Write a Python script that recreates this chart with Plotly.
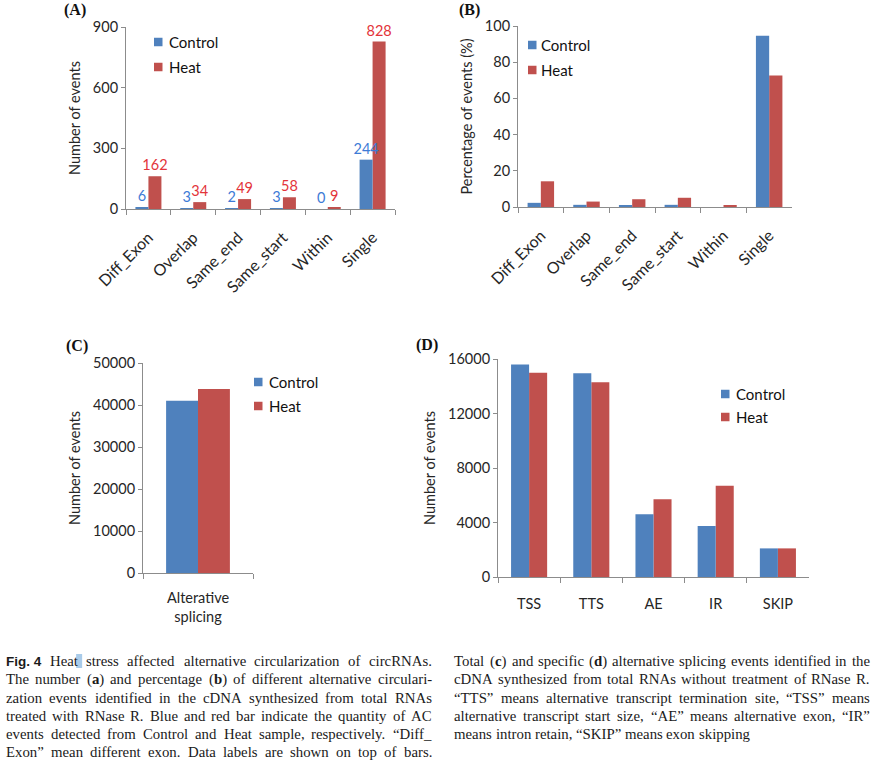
import plotly.graph_objects as go

W, H = 876, 760

# ---------------- data ----------------
cats_ab = ["Diff_Exon", "Overlap", "Same_end", "Same_start", "Within", "Single"]
ctrl_a = [6, 3, 2, 3, 0, 244]
heat_a = [162, 34, 49, 58, 9, 828]
ctrl_b = [2.3, 1.2, 0.8, 1.2, 0.0, 94.6]
heat_b = [14.2, 3.0, 4.3, 5.1, 0.8, 72.6]
cats_c = ["Alterative<br>splicing"]
ctrl_c = [41000]
heat_c = [43800]
cats_d = ["TSS", "TTS", "AE", "IR", "SKIP"]
ctrl_d = [15600, 14950, 4600, 3750, 2100]
heat_d = [15000, 14300, 5700, 6700, 2100]
series_names = ["Control", "Heat"]

caption_left = [
    "Fig. 4|Heat stress affected alternative circularization of circRNAs.",
    "The number (<b>a</b>) and percentage (<b>b</b>) of different alternative circulari-",
    "zation events identified in the cDNA synthesized from total RNAs",
    "treated with RNase R. Blue and red bar indicate the quantity of AC",
    "events detected from Control and Heat sample, respectively. \u201cDiff_",
    "Exon\u201d mean different exon. Data labels are shown on top of bars.",
]
caption_right = [
    "Total (<b>c</b>) and specific (<b>d</b>) alternative splicing events identified in the",
    "cDNA synthesized from total RNAs without treatment of RNase R.",
    "\u201cTTS\u201d means alternative transcript termination site, \u201cTSS\u201d means",
    "alternative transcript start size, \u201cAE\u201d means alternative exon, \u201cIR\u201d",
    "means intron retain, \u201cSKIP\u201d means exon skipping",
]

# ---------------- style ----------------
BLUE = "#4F81BD"
RED = "#C0504D"
BLUE_LBL = "#3D7BD6"
RED_LBL = "#E3343A"
FONT = "Lato"
TXT = "#262626"
AXC = "#8c8c8c"
FS = 14.5
BARW = 0.29  # width of each bar in category units


def px(x):
    return x / W


def py(y):
    return 1 - y / H


fig = go.Figure()

panels = [
    # suffix, cats, ctrl, heat, xdom(px), ydom(px: bottom, top), yrange, dtick, angle, labels, standoff, xfs
    ("", cats_ab, ctrl_a, heat_a, (126, 395), (209, 27), (0, 900), 300, -45, True, 12, 16),
    ("2", cats_ab, ctrl_b, heat_b, (518, 792), (207, 26), (0, 100), 20, -45, False, 12, 16),
    ("3", cats_c, ctrl_c, heat_c, (143, 253), (573, 363), (0, 50000), 10000, 0, False, 12, FS),
    ("4", cats_d, ctrl_d, heat_d, (498, 809), (577, 359), (0, 16000), 4000, 0, False, 14, FS),
]
ytitles = ["Number of events", "Percentage of events (%)", "Number of events", "Number of events"]

for i, (s, cats, c, h, xd, yd, yr, dt, ang, lab, so, xfs) in enumerate(panels):
    xa, ya = "x" + s, "y" + s
    # Heat drawn first (right bar), Control second (left bar) so its labels sit on top
    for vals, col, lcol, nm, off in ((h, RED, RED_LBL, series_names[1], 0.0),
                                     (c, BLUE, BLUE_LBL, series_names[0], -BARW)):
        kw = {}
        if lab:
            kw = dict(text=vals, textposition="outside", cliponaxis=False, constraintext="none",
                      textfont=dict(family=FONT, size=FS, color=lcol))
        fig.add_trace(go.Bar(x=cats, y=vals, name=nm, offset=off, width=BARW,
                             marker=dict(color=col, line=dict(width=0)),
                             xaxis=xa, yaxis=ya, showlegend=False, hoverinfo="skip", **kw))
    xkey = "xaxis" + s
    ykey = "yaxis" + s
    fig.layout[xkey] = dict(
        domain=[px(xd[0]), px(xd[1])], anchor=ya, showline=True, linecolor=AXC, linewidth=1,
        ticks="outside", tickcolor=AXC, ticklen=5, tickson="boundaries", showgrid=False,
        zeroline=False, tickangle=ang, automargin=False, fixedrange=True,
        ticklabelstandoff=so,
        tickfont=dict(family=FONT, size=xfs, color=TXT))
    fig.layout[ykey] = dict(
        domain=[py(yd[0]), py(yd[1])], anchor=xa, range=list(yr), dtick=dt, tick0=0,
        tickformat="d", showline=True, linecolor=AXC, linewidth=1, ticks="outside",
        tickcolor=AXC, ticklen=4, showgrid=False, zeroline=False, automargin=False,
        fixedrange=True, tickfont=dict(family=FONT, size=FS, color=TXT),
        title=dict(text=ytitles[i], font=dict(family=FONT, size=FS, color=TXT), standoff=8))

shapes = []
annotations = []

# manual legends
legend_pos = [(154, 167, 42, 67), (528, 539, 45, 70), (254, 267, 382, 406), (721, 734, 394, 417)]
for sx, tx, y1, y2 in legend_pos:
    for yy, col, nm in ((y1, BLUE, series_names[0]), (y2, RED, series_names[1])):
        shapes.append(dict(type="rect", xref="paper", yref="paper", x0=px(sx), x1=px(sx + 8.5),
                           y0=py(yy + 4.25), y1=py(yy - 4.25), fillcolor=col, line=dict(width=0)))
        annotations.append(dict(text=nm, x=px(tx), y=py(yy), xref="paper", yref="paper",
                                xanchor="left", yanchor="middle", showarrow=False,
                                font=dict(family=FONT, size=15, color="#111")))

# panel letters
for t, lx, ly in (("(A)", 62, 10), ("(B)", 457, 10), ("(C)", 64, 346), ("(D)", 414, 345)):
    annotations.append(dict(text="<b>%s</b>" % t, x=px(lx), y=py(ly), xref="paper", yref="paper",
                            xanchor="left", yanchor="middle", showarrow=False,
                            font=dict(family="Liberation Serif", size=16, color="#111")))

# ---------------- justified caption ----------------
TR = {' ': 250, 'a': 444, 'b': 500, 'c': 444, 'd': 500, 'e': 444, 'f': 333, 'g': 500, 'h': 500,
      'i': 278, 'j': 278, 'k': 500, 'l': 278, 'm': 778, 'n': 500, 'o': 500, 'p': 500, 'q': 500,
      'r': 333, 's': 389, 't': 278, 'u': 500, 'v': 500, 'w': 722, 'x': 500, 'y': 500, 'z': 444,
      'A': 722, 'B': 667, 'C': 667, 'D': 722, 'E': 611, 'F': 556, 'G': 722, 'H': 722, 'I': 333,
      'J': 389, 'K': 722, 'L': 611, 'M': 889, 'N': 722, 'O': 722, 'P': 556, 'Q': 722, 'R': 667,
      'S': 556, 'T': 611, 'U': 722, 'V': 722, 'W': 944, 'X': 722, 'Y': 722, 'Z': 611,
      '.': 250, ',': 250, '-': 333, '_': 500, '(': 333, ')': 333, '\u201c': 444, '\u201d': 444,
      '0': 500, '1': 500, '2': 500, '3': 500, '4': 500, '5': 500, '6': 500, '7': 500, '8': 500, '9': 500}
TB = {'a': 500, 'b': 556, 'c': 444, 'd': 556}
HB = {'F': 611, 'i': 278, 'g': 611, '.': 278, ' ': 278, '4': 556}
CFS = 14.8
HFS = 13.5
SERIF = "Liberation Serif"
word_boxes = {}


def word_width(w, sans=False):
    if sans:
        return sum(HB.get(ch, 556) for ch in w) * HFS / 1000
    tot, bold, k = 0, False, 0
    while k < len(w):
        if w.startswith("<b>", k):
            bold = True; k += 3; continue
        if w.startswith("</b>", k):
            bold = False; k += 4; continue
        ch = w[k]
        tot += (TB.get(ch, TR.get(ch, 500)) if bold else TR.get(ch, 500))
        k += 1
    return tot * CFS / 1000


def lay_column(lines, x0, x1, y0, dy, last_justified, tag):
    for li, line in enumerate(lines):
        if "|" in line:
            head, rest = line.split("|")
            words = [(head, True)] + [(w, False) for w in rest.split(" ")]
        else:
            words = [(w, False) for w in line.split(" ")]
        widths = [word_width(w, s) for w, s in words]
        justify = last_justified or li < len(lines) - 1
        if justify and len(words) > 1:
            gap = (x1 - x0 - sum(widths)) / (len(words) - 1)
        else:
            gap = TR[' '] * CFS / 1000
        xx = x0
        yy = y0 + li * dy
        for wi, ((w, s), ww) in enumerate(zip(words, widths)):
            if s:
                txt, fam, fs = "<b>%s</b>" % w, "Liberation Sans", HFS
            else:
                txt, fam, fs = w, SERIF, CFS
            annotations.append(dict(text=txt, x=px(xx), y=py(yy), xref="paper", yref="paper",
                                    xanchor="left", yanchor="middle", showarrow=False,
                                    font=dict(family=fam, size=fs, color="#1a1a1a")))
            word_boxes[(tag, li, wi)] = (xx, xx + ww, yy)
            xx += ww + gap


lay_column(caption_left, 4, 430, 661, 18.25, True, "L")
lay_column(caption_right, 452, 868, 661, 18.25, False, "R")

# selection-cursor artefact right after "Heat" in the first caption line
hx0, hx1, hy = word_boxes[("L", 0, 1)]
shapes.append(dict(type="rect", xref="paper", yref="paper", x0=px(hx1 + 0.5), x1=px(hx1 + 6.5),
                   y0=py(hy + 7), y1=py(hy - 7), fillcolor="rgba(140,185,225,0.75)", line=dict(width=0),
                   layer="below"))

fig.update_layout(
    width=W, height=H, margin=dict(l=0, r=0, t=0, b=0), autosize=False,
    paper_bgcolor="white", plot_bgcolor="white",
    barmode="overlay",
    shapes=shapes, annotations=annotations, showlegend=False,
    font=dict(family=FONT, size=FS, color=TXT),
)

fig.write_html("out.html", config={"displayModeBar": False},
               post_script="document.body.style.margin='0';document.body.style.overflow='hidden';")
